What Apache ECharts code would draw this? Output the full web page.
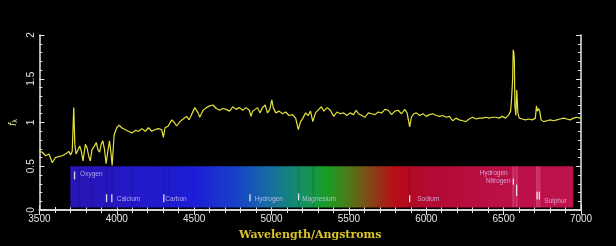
<!DOCTYPE html>
<html><head><meta charset="utf-8">
<script src="https://cdn.jsdelivr.net/npm/echarts@6/dist/echarts.min.js"></script>
<style>html,body{margin:0;padding:0;background:#000;}#c{width:616px;height:246px;}</style>
</head><body><div id="c"></div>
<script>
// ---- data ----
const wavelengths = [3500,3519,3540,3562,3583,3604,3626,3647,3669,3690,3701,3712,3722,3729,3737,3748,3761,3771,3782,3797,3808,3818,3829,3840,3855,3868,3878,3889,3899,3910,3921,3931,3942,3953,3962,3970,3983,4000,4015,4032,4053,4075,4098,4120,4141,4162,4184,4205,4226,4248,4269,4290,4301,4312,4333,4355,4372,4387,4408,4429,4451,4468,4483,4504,4526,4536,4558,4579,4601,4622,4643,4665,4686,4707,4729,4750,4771,4793,4814,4835,4857,4867,4878,4889,4910,4925,4942,4959,4974,4989,5002,5011,5028,5049,5071,5092,5113,5135,5156,5173,5188,5203,5220,5237,5252,5267,5284,5306,5322,5338,5359,5380,5402,5423,5444,5466,5487,5508,5530,5547,5562,5583,5604,5626,5647,5668,5690,5712,5733,5754,5776,5797,5818,5840,5861,5876,5893,5904,5919,5936,5957,5979,6000,6021,6043,6064,6085,6107,6128,6149,6171,6192,6213,6235,6256,6277,6299,6321,6342,6363,6385,6406,6427,6449,6470,6491,6513,6534,6545,6551,6558,6562,6566,6569,6573,6579,6585,6592,6601,6620,6641,6662,6684,6705,6712,6718,6726,6733,6742,6759,6780,6801,6823,6844,6865,6887,6908,6929,6951,6972,6994,7000];
const flux = [0.67,0.66,0.62,0.64,0.54,0.60,0.61,0.62,0.64,0.67,0.63,0.67,1.17,0.75,0.64,0.62,0.73,0.67,0.56,0.75,0.71,0.62,0.56,0.69,0.73,0.77,0.69,0.66,0.75,0.79,0.69,0.53,0.67,0.79,0.66,0.51,0.86,0.94,0.97,0.94,0.92,0.90,0.88,0.91,0.90,0.93,0.90,0.94,0.90,0.92,0.93,0.92,0.83,0.94,0.96,1.03,1.00,0.96,1.01,1.04,1.07,1.03,1.09,1.17,1.11,1.06,1.14,1.17,1.19,1.20,1.16,1.14,1.16,1.15,1.13,1.18,1.15,1.17,1.14,1.17,1.14,1.07,1.13,1.11,1.17,1.11,1.17,1.20,1.11,1.15,1.26,1.17,1.11,1.13,1.10,1.12,1.08,1.09,1.05,0.92,1.01,1.05,1.11,1.08,1.13,1.01,1.11,1.15,1.18,1.13,1.17,1.14,1.07,1.12,1.10,1.11,1.08,1.11,1.09,1.14,1.10,1.08,1.06,1.11,1.10,1.09,1.12,1.11,1.15,1.14,1.09,1.13,1.14,1.10,1.15,1.11,0.95,1.06,1.10,1.11,1.08,1.10,1.07,1.09,1.10,1.08,1.07,1.08,1.06,1.07,1.02,1.05,1.03,1.02,1.01,1.04,1.06,1.04,1.05,1.05,1.06,1.05,1.06,1.06,1.05,1.07,1.05,1.09,1.13,1.26,1.49,1.83,1.80,1.72,1.19,1.08,1.37,1.11,1.05,1.04,1.03,1.04,1.03,1.05,1.19,1.13,1.16,1.13,1.03,1.01,1.02,1.03,1.02,1.03,1.04,1.05,1.04,1.03,1.05,1.06,1.05,1.05];

const xTicks = [3500, 7000, 500];   // min, max, interval
const yTicks = [0, 2, 0.5];

// spectrum band extent (wavelength, flux units)
const bandWave = [3700, 6950];
const bandFlux = [0.03, 0.5];
// absorption/emission streaks in the band
const streakWave = [3760, 3835, 3934, 3968, 4101, 4304, 4340, 5175, 5270, 5893, 6563, 6584, 6716, 6731];
const streakKind = [-1, -1, -1, -1, -1, -1, -1, -1, -1, -1, 1, 1, 1, 1];

// element marker lines: wavelength, lower flux, upper flux
const markerWave = [3727, 3934, 3968, 4304, 4861, 5175, 5893, 6563, 6584, 6716, 6731];
const markerLow  = [0.35, 0.09, 0.09, 0.09, 0.10, 0.11, 0.09, 0.29, 0.16, 0.12, 0.12];
const markerHigh = [0.44, 0.18, 0.18, 0.18, 0.18, 0.19, 0.17, 0.36, 0.29, 0.21, 0.21];

// element labels: name, anchor wavelength, flux, alignment
const labelNames = ['Oxygen', 'Calcium', 'Carbon', 'Hydrogen', 'Magnesium', 'Sodium', 'Hydrogen', 'Nitrogen', 'Sulphur'];
const labelWave  = [3763, 4000, 4314, 4891, 5199, 5942, 6526, 6545, 6763];
const labelFlux  = [0.41, 0.125, 0.125, 0.125, 0.125, 0.125, 0.42, 0.33, 0.095];
const labelAlign = ['left', 'left', 'left', 'left', 'left', 'left', 'right', 'right', 'left'];

// ---- chart ----
const spectrum = wavelengths.map((w, i) => [w, flux[i]]);
const axisColor = '#e4e4e4';
const bandGradientStops = [
  {offset: 0.00, color: 'rgb(40,22,180)'},
  {offset: 0.09, color: 'rgb(36,24,195)'},
  {offset: 0.25, color: 'rgb(28,30,215)'},
  {offset: 0.33, color: 'rgb(24,66,200)'},
  {offset: 0.40, color: 'rgb(22,112,160)'},
  {offset: 0.46, color: 'rgb(20,145,100)'},
  {offset: 0.51, color: 'rgb(24,158,36)'},
  {offset: 0.555, color: 'rgb(80,120,22)'},
  {offset: 0.60, color: 'rgb(135,66,22)'},
  {offset: 0.645, color: 'rgb(185,12,22)'},
  {offset: 0.71, color: 'rgb(178,10,50)'},
  {offset: 0.85, color: 'rgb(186,16,70)'},
  {offset: 1.00, color: 'rgb(190,20,76)'}
];

const chart = echarts.init(document.getElementById('c'), null, {renderer: 'canvas'});
const baseX = {
  type: 'value', min: xTicks[0], max: xTicks[1], interval: xTicks[2],
  axisLine: {lineStyle: {color: axisColor, width: 1.5}},
  axisTick: {inside: true, length: 5, lineStyle: {color: axisColor}},
  minorTick: {show: true, splitNumber: 5, length: 3, lineStyle: {color: axisColor}},
  splitLine: {show: false}
};
const baseY = {
  type: 'value', min: yTicks[0], max: yTicks[1], interval: yTicks[2],
  axisLine: {lineStyle: {color: axisColor, width: 1.5}},
  axisTick: {inside: true, length: 5, lineStyle: {color: axisColor}},
  minorTick: {show: true, splitNumber: 5, length: 3, lineStyle: {color: axisColor}},
  splitLine: {show: false}
};

chart.setOption({
  backgroundColor: '#000',
  animation: false,
  grid: {left: 35, right: 35, top: 35, bottom: 35},
  xAxis: [
    Object.assign({}, baseX, {
      position: 'bottom',
      axisLabel: {color: '#e4e4e4', fontSize: 10, margin: 4, fontFamily: 'Liberation Sans',
        formatter: v => String(v)},
      name: 'Wavelength/Angstroms', nameLocation: 'middle', nameGap: 20,
      nameTextStyle: {color: '#d9c42c', fontSize: 11, fontWeight: 'bold', fontFamily: 'DejaVu Serif'}
    }),
    Object.assign({}, baseX, {position: 'top', axisLabel: {show: false}})
  ],
  yAxis: [
    Object.assign({}, baseY, {
      position: 'left',
      axisLabel: {color: '#e4e4e4', fontSize: 10, margin: 3, rotate: 90, fontFamily: 'Liberation Sans',
        formatter: v => String(v)},
      name: '{f|f}{s|λ}', nameLocation: 'middle', nameGap: 15, nameRotate: 90,
      nameTextStyle: {rich: {
        f: {color: '#e8e890', fontSize: 10, fontStyle: 'italic', fontFamily: 'Liberation Sans'},
        s: {color: '#e8e890', fontSize: 7, verticalAlign: 'bottom', padding: [4, 0, 0, 0], fontFamily: 'Liberation Sans'}
      }}
    }),
    Object.assign({}, baseY, {position: 'right', axisLabel: {show: false}})
  ],
  series: [
    {
      type: 'custom', z: 1, silent: true,
      data: [[bandWave[0], bandWave[1], bandFlux[0], bandFlux[1]]],
      renderItem: function (params, api) {
        const p0 = api.coord([api.value(0), api.value(3)]);
        const p1 = api.coord([api.value(1), api.value(2)]);
        const children = [{
          type: 'rect',
          shape: {x: p0[0], y: p0[1], width: p1[0] - p0[0], height: p1[1] - p0[1]},
          style: {fill: {type: 'linear', x: 0, y: 0, x2: 1, y2: 0, colorStops: bandGradientStops}}
        }];
        streakWave.forEach((w, i) => {
          const x = api.coord([w, 0])[0];
          children.push({
            type: 'rect',
            shape: {x: x - 1, y: p0[1], width: 2, height: p1[1] - p0[1]},
            style: {fill: streakKind[i] < 0 ? 'rgba(0,0,40,0.12)' : 'rgba(255,170,210,0.25)'}
          });
        });
        return {type: 'group', children: children};
      },
      encode: {x: [0, 1], y: [2, 3]}
    },
    {
      type: 'custom', z: 3, silent: true,
      data: markerWave.map((w, i) => [w, markerLow[i], markerHigh[i]]),
      renderItem: function (params, api) {
        const a = api.coord([api.value(0), api.value(1)]);
        const b = api.coord([api.value(0), api.value(2)]);
        return {type: 'line', shape: {x1: a[0], y1: a[1], x2: b[0], y2: b[1]},
          style: {stroke: 'rgba(245,240,255,0.9)', lineWidth: 1.3}};
      },
      encode: {x: 0, y: [1, 2]}
    },
    {
      type: 'custom', z: 3, silent: true,
      data: labelNames.map((n, i) => [labelWave[i], labelFlux[i], i]),
      renderItem: function (params, api) {
        const i = api.value(2);
        const p = api.coord([api.value(0), api.value(1)]);
        return {type: 'text', x: p[0], y: p[1],
          style: {text: labelNames[i], fill: 'rgba(220,210,255,0.75)', fontSize: 6.5,
            fontFamily: 'Liberation Sans', align: labelAlign[i], verticalAlign: 'middle'}};
      },
      encode: {x: 0, y: 1}
    },
    {
      type: 'line', z: 5, data: spectrum, showSymbol: false, symbol: 'none',
      lineStyle: {color: '#e4e23c', width: 1.2}
    }
  ]
});
</script>
</body></html>
